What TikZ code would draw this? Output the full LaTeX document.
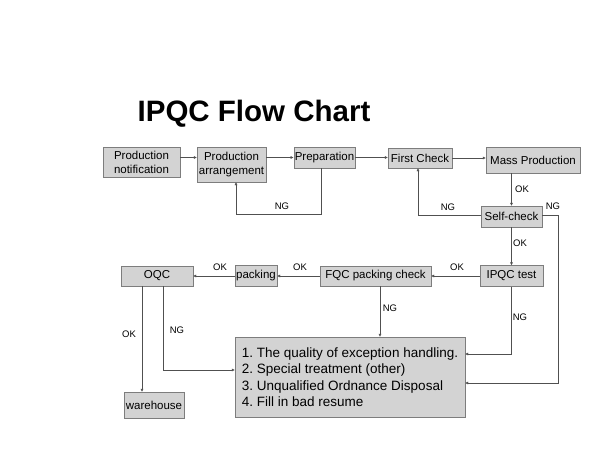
\documentclass[tikz,border=0pt]{standalone}
\usepackage{fontspec}
\setmainfont{Liberation Sans}
\usetikzlibrary{arrows.meta}
\definecolor{boxgray}{RGB}{211,211,211}
\definecolor{edgegray}{RGB}{125,125,125}
\definecolor{linegray}{RGB}{80,80,80}
\frenchspacing
\begin{document}
\begin{tikzpicture}[x=1pt,y=-1pt,
  box/.style={draw=edgegray,fill=boxgray,inner sep=1pt,align=center,font=\fontsize{11.5}{14}\selectfont},
  lbl/.style={inner sep=0pt,font=\fontsize{9.5}{11}\selectfont},
  flow/.style={draw=linegray,-{Latex[length=3pt,width=3pt]}}]
\useasboundingbox[fill=white] (0,0) rectangle (601,451);
\node (title) at (254,113.5) [font=\bfseries\fontsize{29.5}{34}\selectfont] {IPQC Flow Chart};
\node (notif) at (141.5,162) [box,minimum width=77pt,minimum height=30pt] {Production\\notification};
\node (arr) at (231.5,164.5) [box,minimum width=69pt,minimum height=35pt] {Production\\arrangement};
\node (prep) at (324.5,157.5) [box,minimum width=59pt,minimum height=21pt] {Preparation};
\node (first) at (420,158) [box,minimum width=64pt,minimum height=20pt] {First Check};
\node (mass) at (533,160) [box,minimum width=94pt,minimum height=26pt] {Mass Production};
\node (self) at (511.5,216.5) [box,minimum width=61pt,minimum height=21pt] {Self-check};
\node (ipqc) at (511.5,276) [box,minimum width=63pt,minimum height=21pt] {IPQC test};
\node (fqc) at (375.5,276) [box,minimum width=111pt,minimum height=20pt] {FQC packing check};
\node (pack) at (256,276) [box,minimum width=42pt,minimum height=21pt] {packing};
\node (oqc) at (157,276) [box,minimum width=72pt,minimum height=20pt] {OQC};
\node (wh) at (154,405) [box,minimum width=60pt,minimum height=26pt] {warehouse};
\node (big) at (350,377) [box,minimum width=230pt,minimum height=80pt,align=left,font=\fontsize{13.5}{16.5}\selectfont] {1. The quality of exception handling.\\2. Special treatment (other)\\3. Unqualified Ordnance Disposal\\4. Fill in bad resume};
\coordinate (c1) at (321,214);
\coordinate (c2) at (236,214);
\coordinate (c3) at (418,215);
\coordinate (c4) at (558,215);
\coordinate (c5) at (558,383);
\coordinate (c6) at (511.5,354);
\coordinate (c7) at (380,0);
\coordinate (c8) at (142,0);
\coordinate (c9) at (163,370);
\draw [flow] (notif.east |- prep) -- (arr.west |- prep);
\draw [flow] (arr.east |- prep) -- (prep.west);
\draw [flow] (prep.east) -- (first.west |- prep.east);
\draw [flow] (first.east) -- (mass.west |- first.east);
\draw [flow] (prep.south -| c1) -- (c1) -- (c2) -- (arr.south -| c2);
\draw [flow] (self.north |- mass.south) -- (self.north);
\draw [flow] (self.west |- c3) -- (c3) -- (first.south -| c3);
\draw [flow] (self.east |- c4) -- (c4) -- (c5) -- (big.east |- c5);
\draw [flow] (self.south) -- (ipqc.north);
\draw [flow] (ipqc.south) -- (c6) -- (big.east |- c6);
\draw [flow] (ipqc.west) -- (fqc.east);
\draw [flow] (fqc.west) -- (pack.east);
\draw [flow] (pack.west) -- (oqc.east);
\draw [flow] (fqc.south -| c7) -- (big.north -| c7);
\draw [flow] (oqc.south -| c8) -- (wh.north -| c8);
\draw [flow] (oqc.south -| c9) -- (c9) -- (big.west |- c9);
\node (ng1) at (282,206) [lbl] {NG};
\node (ok1) at (522,189) [lbl] {OK};
\node (ng2) at (448,207) [lbl] {NG};
\node (ng3) at (553,206) [lbl] {NG};
\node (ok2) at (520,243) [lbl] {OK};
\node (ng4) at (520,317) [lbl] {NG};
\node (ok3) at (457,267) [lbl] {OK};
\node (ok4) at (300,267) [lbl] {OK};
\node (ok5) at (220,267) [lbl] {OK};
\node (ng5) at (390,308) [lbl] {NG};
\node (ok6) at (129,334) [lbl] {OK};
\node (ng6) at (177,330) [lbl] {NG};
\end{tikzpicture}
\end{document}
